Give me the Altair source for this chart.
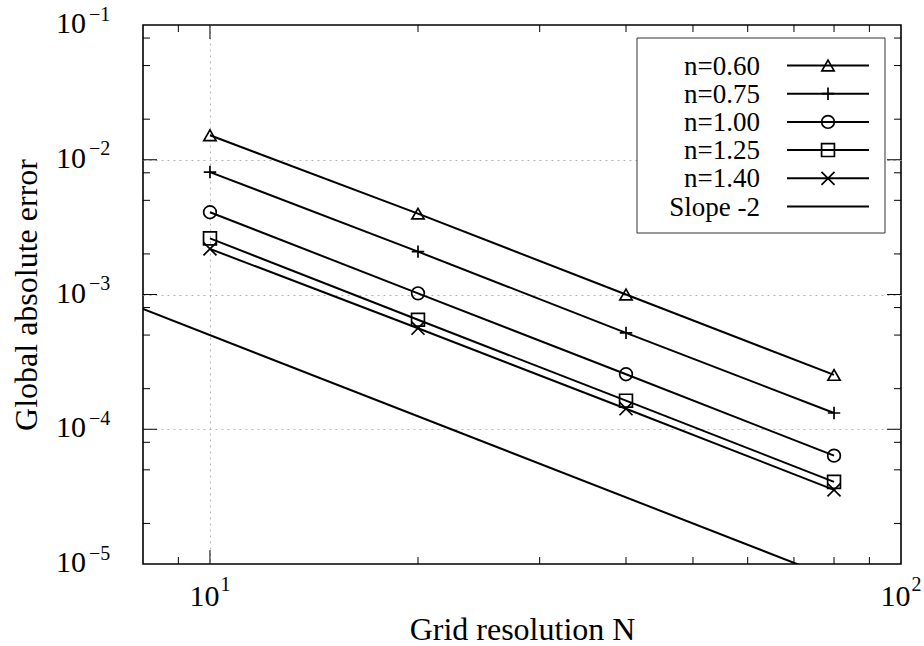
import altair as alt
import pandas as pd

# ---------------- data ----------------
N = [10, 20, 40, 80]
series = ["n=0.60", "n=0.75", "n=1.00", "n=1.25", "n=1.40"]
err_060 = [1.52e-2, 3.98e-3, 1.00e-3, 2.53e-4]
err_075 = [8.1e-3, 2.08e-3, 5.19e-4, 1.32e-4]
err_100 = [4.08e-3, 1.02e-3, 2.56e-4, 6.37e-5]
err_125 = [2.61e-3, 6.49e-4, 1.63e-4, 4.07e-5]
err_140 = [2.18e-3, 5.62e-4, 1.42e-4, 3.55e-5]
slope_N = [8, 100]
slope_err = [7.8e-4, 5.0e-6]
legend_labels = ["n=0.60", "n=0.75", "n=1.00", "n=1.25", "n=1.40", "Slope -2"]

x_major = [10]
x_minor = [9, 20, 30, 40, 50, 60, 70, 80, 90]
y_major = [1e-2, 1e-3, 1e-4]
y_minor = [8e-2, 5e-2, 2e-2, 8e-3, 5e-3, 2e-3, 8e-4, 5e-4, 2e-4, 8e-5, 5e-5, 2e-5]
x_label_vals = [10, 100]
x_label_exp = ["1", "2"]
y_label_vals = [1e-1, 1e-2, 1e-3, 1e-4, 1e-5]
y_label_exp = ["\u22121", "\u22122", "\u22123", "\u22124", "\u22125"]

shapes = ["triangle-up", "M-1,0L1,0M0,-1L0,1", "circle", "square", "M-1,-1L1,1M-1,1L1,-1"]
sizes = [150, 170, 144, 110, 120]

# ---------------- tables ----------------
errs = [err_060, err_075, err_100, err_125, err_140]
df = pd.DataFrame(
    [{"N": n, "err": e, "series": s} for s, es in zip(series, errs) for n, e in zip(N, es)]
)
slope_df = pd.DataFrame({"N": slope_N, "err": slope_err})

W, H = 758, 539
FONT = "Liberation Serif"

leg_df = pd.DataFrame({
    "label": legend_labels,
    "ly": [40.5 + 28.2 * i for i in range(len(legend_labels))],
    "series": series + [None],
})
leg_pts = leg_df.dropna()

xs = alt.Scale(type="log", domain=[8, 100], nice=False)
ys = alt.Scale(type="log", domain=[1e-5, 1e-1], nice=False)
xaxis = alt.Axis(values=x_major, grid=True, ticks=False, labels=False, domain=False,
                 gridColor="#b5b5b5", gridDash=[2, 4], gridWidth=1,
                 title="Grid resolution N", titleFont=FONT, titleFontSize=32,
                 titleFontWeight="normal", titleColor="black",
                 titleY=75, titleBaseline="alphabetic")
yaxis = alt.Axis(values=y_major, grid=True, ticks=False, labels=False, domain=False,
                 gridColor="#b5b5b5", gridDash=[2, 4], gridWidth=1,
                 title="Global absolute error", titleFont=FONT, titleFontSize=32,
                 titleFontWeight="normal", titleColor="black",
                 titleAngle=270, titleX=-107, titleY=H / 2, titleBaseline="alphabetic")


def X(f):
    return alt.X(f + ":Q", scale=xs, axis=xaxis)


def Y(f):
    return alt.Y(f + ":Q", scale=ys, axis=yaxis)


shape_enc = alt.Shape("series:N", scale=alt.Scale(domain=series, range=shapes), legend=None)
size_enc = alt.Size("series:O", scale=alt.Scale(domain=series, range=sizes), legend=None)

lines = alt.Chart(df).mark_line(color="black", strokeWidth=2).encode(
    x=X("N"), y=Y("err"), detail="series:N")
points = alt.Chart(df).mark_point(filled=False, color="black", strokeWidth=1.7, opacity=1).encode(
    x=X("N"), y=Y("err"), shape=shape_enc, size=size_enc)
slope = alt.Chart(slope_df).mark_line(color="black", strokeWidth=2, clip=True).encode(
    x=X("N"), y=Y("err"))

# ---------- inward ticks on all four sides ----------
tick_layers = []
for vals, ln in [(x_major, 14), (x_minor, 7)]:
    d = pd.DataFrame({"v": vals})
    tick_layers.append(alt.Chart(d).mark_rule(color="black", strokeWidth=1).encode(
        x=X("v"), y=alt.value(H), y2=alt.value(H - ln)))
    tick_layers.append(alt.Chart(d).mark_rule(color="black", strokeWidth=1).encode(
        x=X("v"), y=alt.value(0), y2=alt.value(ln)))
for vals, ln in [(y_major, 14), (y_minor, 7)]:
    d = pd.DataFrame({"v": vals})
    tick_layers.append(alt.Chart(d).mark_rule(color="black", strokeWidth=1).encode(
        y=Y("v"), x=alt.value(0), x2=alt.value(ln)))
    tick_layers.append(alt.Chart(d).mark_rule(color="black", strokeWidth=1).encode(
        y=Y("v"), x=alt.value(W), x2=alt.value(W - ln)))

# ---------- tick labels 10^k ----------
xl = pd.DataFrame({"v": x_label_vals, "e": x_label_exp})
yl = pd.DataFrame({"v": y_label_vals, "e": y_label_exp})
xlab_base = alt.Chart(xl).mark_text(align="right", baseline="alphabetic", font=FONT,
                                    fontSize=30, dx=9.5, color="black").encode(
    x=X("v"), y=alt.value(H + 42), text=alt.value("10"))
xlab_exp = alt.Chart(xl).mark_text(align="left", baseline="alphabetic", font=FONT,
                                   fontSize=20, dx=10.5, color="black").encode(
    x=X("v"), y=alt.value(H + 27), text="e:N")
ylab_base = alt.Chart(yl).mark_text(align="right", baseline="alphabetic", font=FONT,
                                    fontSize=30, dy=8, color="black").encode(
    y=Y("v"), x=alt.value(-57), text=alt.value("10"))
ylab_exp = alt.Chart(yl).mark_text(align="left", baseline="alphabetic", font=FONT,
                                   fontSize=20, dy=-4.3, color="black").encode(
    y=Y("v"), x=alt.value(-54), text="e:N")

# ---------- legend ----------
box = alt.Chart(pd.DataFrame({"a": [0]})).mark_rect(fill="white", stroke="#333333", strokeWidth=1).encode(
    x=alt.value(494), x2=alt.value(742), y=alt.value(13), y2=alt.value(208))
leg_lines = alt.Chart(leg_df).mark_rule(color="black", strokeWidth=2).encode(
    x=alt.value(644), x2=alt.value(726), y=alt.Y("ly:Q", scale=None, axis=None))
leg_marks = alt.Chart(leg_pts).mark_point(filled=False, color="black", strokeWidth=1.7, opacity=1).encode(
    x=alt.value(685), y=alt.Y("ly:Q", scale=None, axis=None), shape=shape_enc, size=size_enc)
leg_text = alt.Chart(leg_df).mark_text(align="right", baseline="middle", font=FONT,
                                       fontSize=27, color="black", dy=1).encode(
    x=alt.value(617), y=alt.Y("ly:Q", scale=None, axis=None), text="label:N")

chart = alt.layer(
    lines, slope, points, *tick_layers,
    xlab_base, xlab_exp, ylab_base, ylab_exp,
    box, leg_lines, leg_marks, leg_text,
).properties(
    width=W, height=H,
    autosize=alt.AutoSizeParams(type="none"),
    padding={"left": 143, "top": 25, "right": 23, "bottom": 82},
    background="white",
).configure_view(stroke="black", strokeWidth=1.6)

chart.save("out.html", embed_options={"renderer": "svg", "actions": False})
